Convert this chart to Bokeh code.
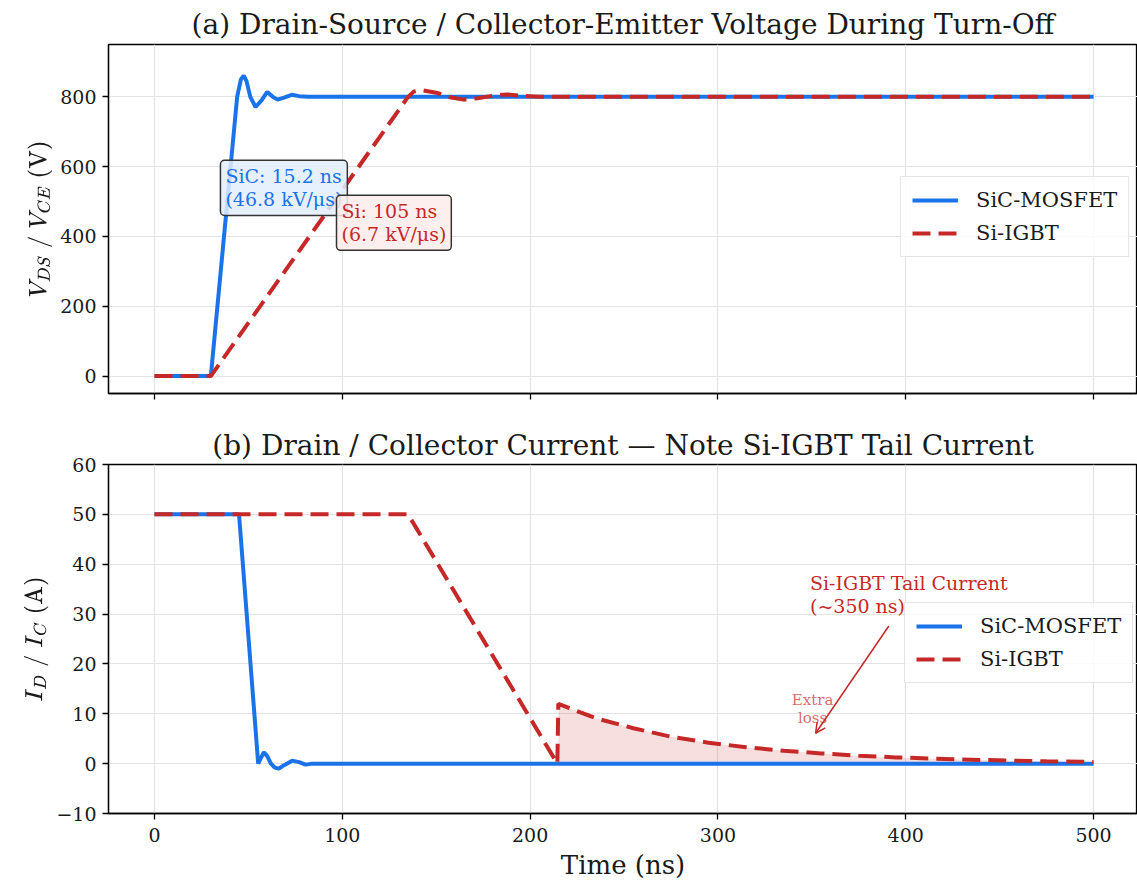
from bokeh.plotting import figure
from bokeh.layouts import column
from bokeh.models import Range1d, FixedTicker, Label, Arrow, OpenHead
from bokeh.embed import file_html
from bokeh.resources import INLINE

# ---------------- data ----------------
x_ticks = [0, 100, 200, 300, 400, 500]
v_ticks = [0, 200, 400, 600, 800]
i_ticks = [-10, 0, 10, 20, 30, 40, 50, 60]

# (a) voltage, SiC-MOSFET
sic_v_t = [0, 30, 37, 44, 46, 47.5, 49, 51, 53.8, 57, 60, 63, 65.5, 69, 73, 77, 82, 500]
sic_v = [0, 0, 400, 800, 850, 861, 845, 800, 771, 790, 814, 800, 792, 798, 806, 802, 800, 800]
# (a) voltage, Si-IGBT
si_v_t = [0, 30, 135, 138, 141.6, 150, 158, 164.6, 172, 180, 187.7, 195, 205, 500]
si_v = [0, 0, 800, 815, 820, 812, 798, 792, 796, 803, 807, 803, 800, 800]

# (b) current, SiC-MOSFET
sic_i_t = [0, 45, 55.2, 56.5, 58.2, 60, 62, 64, 66.2, 69, 73.3, 77, 80.4, 84, 88, 500]
sic_i = [50, 50, 0, 1.0, 2.3, 1.5, 0, -0.8, -1.0, -0.3, 0.6, 0.3, -0.2, 0, 0, 0]
# (b) current, Si-IGBT : turn-off ramp, then tail
si_ramp_t = [0, 135, 214.5]
si_ramp_i = [50, 50, 0]
tail_t = [215, 235, 255, 275, 295, 315, 335, 355, 375, 395, 415, 435, 455, 475, 500]
tail_i = [12.0, 9.1, 7.1, 5.4, 4.2, 3.3, 2.6, 2.05, 1.6, 1.25, 1.0, 0.8, 0.6, 0.48, 0.35]
si_i_t = si_ramp_t + tail_t
si_i = si_ramp_i + tail_i

BLUE = "#1a73e8"
RED = "#c62828"
SERIF = "DejaVu Serif"
DASH = "18 8"
TXT = "#1a1a1a"


def style(p, yticks):
    p.outline_line_color = "black"
    p.outline_line_width = 1.3
    for ax in (p.xaxis, p.yaxis):
        ax.axis_line_color = "black"
        ax.axis_line_width = 1.3
        ax.major_tick_line_color = "black"
        ax.major_tick_line_width = 1.3
        ax.major_tick_out = 6
        ax.major_tick_in = 0
        ax.minor_tick_line_color = None
        ax.major_label_standoff = 6
        ax.major_label_text_font = SERIF
        ax.major_label_text_font_size = "19px"
        ax.major_label_text_color = TXT
        ax.axis_label_text_font = SERIF
        ax.axis_label_text_font_size = "26px"
        ax.axis_label_text_font_style = "normal"
        ax.axis_label_text_color = TXT
    p.yaxis.axis_label_text_font_size = "21px"
    p.xaxis.ticker = FixedTicker(ticks=x_ticks)
    p.yaxis.ticker = FixedTicker(ticks=yticks)
    p.xgrid.ticker = FixedTicker(ticks=x_ticks)
    p.ygrid.ticker = FixedTicker(ticks=yticks)
    p.grid.grid_line_color = "#e3e3e3"
    p.grid.grid_line_width = 1.2
    p.title.text_font = SERIF
    p.title.text_font_size = "28px"
    p.title.text_font_style = "normal"
    p.title.align = "center"
    p.title.text_color = TXT
    p.title.standoff = 8
    p.background_fill_color = "white"
    p.border_fill_color = "white"


def style_legend(p, loc):
    lg = p.legend[0]
    lg.location = loc
    lg.label_text_font = SERIF
    lg.label_text_font_size = "21px"
    lg.label_text_color = TXT
    lg.glyph_width = 46
    lg.glyph_height = 24
    lg.label_standoff = 18
    lg.label_height = 24
    lg.spacing = 9
    lg.padding = 11
    lg.margin = 0
    lg.border_line_color = "#cccccc"
    lg.border_line_width = 1.2
    lg.background_fill_alpha = 0.85


# ---------------- (a) voltage ----------------
p1 = figure(width=1137, height=422, output_backend="svg", toolbar_location=None,
            x_range=Range1d(-24.5, 523.4), y_range=Range1d(-50, 950),
            min_border_left=108, min_border_right=0, min_border_top=44, min_border_bottom=29,
            title="(a) Drain-Source / Collector-Emitter Voltage During Turn-Off")
style(p1, v_ticks)
p1.xaxis.major_label_text_color = None
p1.xaxis.major_label_text_font_size = "10px"
p1.yaxis.axis_label = r"$$V_{DS}\;/\;V_{CE}\;\mathrm{(V)}$$"
p1.line(sic_v_t, sic_v, line_color=BLUE, line_width=4, legend_label="SiC-MOSFET")
p1.line(si_v_t, si_v, line_color=RED, line_width=4, line_dash=DASH, legend_label="Si-IGBT")
style_legend(p1, (792, 136))

p1.add_layout(Label(x=35.1, y=618, anchor="top_left", text="SiC: 15.2 ns\n(46.8 kV/\u03bcs)",
                    text_font=SERIF, text_font_size="19px", text_color=BLUE, padding=5,
                    border_radius=4, background_fill_color="#e3effd", background_fill_alpha=0.85,
                    border_line_color="#333333", border_line_width=1.5, text_line_height=1.05))
p1.add_layout(Label(x=96.9, y=518, anchor="top_left", text="Si: 105 ns\n(6.7 kV/\u03bcs)",
                    text_font=SERIF, text_font_size="19px", text_color=RED, padding=5,
                    border_radius=4, background_fill_color="#fdeceb", background_fill_alpha=0.85,
                    border_line_color="#333333", border_line_width=1.5, text_line_height=1.05))

# ---------------- (b) current ----------------
p2 = figure(width=1137, height=463, output_backend="svg", toolbar_location=None,
            x_range=p1.x_range, y_range=Range1d(-10, 60),
            min_border_left=108, min_border_right=0, min_border_top=42, min_border_bottom=72,
            title="(b) Drain / Collector Current \u2014 Note Si-IGBT Tail Current")
style(p2, i_ticks)
p2.title.standoff = 6
p2.yaxis.major_label_overrides = {-10: "\u221210"}
p2.xaxis.axis_label = "Time (ns)"
p2.xaxis.major_label_standoff = 8
p2.xaxis.axis_label_standoff = 5
p2.yaxis.axis_label = r"$$I_{D}\;/\;I_{C}\;\mathrm{(A)}$$"
p2.varea(x=tail_t, y1=[0] * len(tail_t), y2=tail_i, fill_color=RED, fill_alpha=0.15)
p2.line(sic_i_t, sic_i, line_color=BLUE, line_width=4, legend_label="SiC-MOSFET")
p2.line(si_i_t, si_i, line_color=RED, line_width=4, line_dash=DASH, legend_label="Si-IGBT")
style_legend(p2, (796, 130))

p2.add_layout(Label(x=349, y=38.4, anchor="top_left", text="Si-IGBT Tail Current\n(~350 ns)",
                    text_font=SERIF, text_font_size="19px", text_color=RED, text_line_height=1.05))
p2.add_layout(Arrow(x_start=391, y_start=27.6, x_end=352, y_end=6.1,
                    line_color=RED, line_width=1.5,
                    end=OpenHead(line_color=RED, line_width=1.5, size=10)))
p2.add_layout(Label(x=350.4, y=14.6, anchor="top_center", text="Extra\nloss", text_align="center",
                    text_font=SERIF, text_font_size="15px", text_color=RED, text_alpha=0.7,
                    text_line_height=1.0))

layout = column(p1, p2, spacing=0)
open("out.html", "w").write(file_html(layout, INLINE))
